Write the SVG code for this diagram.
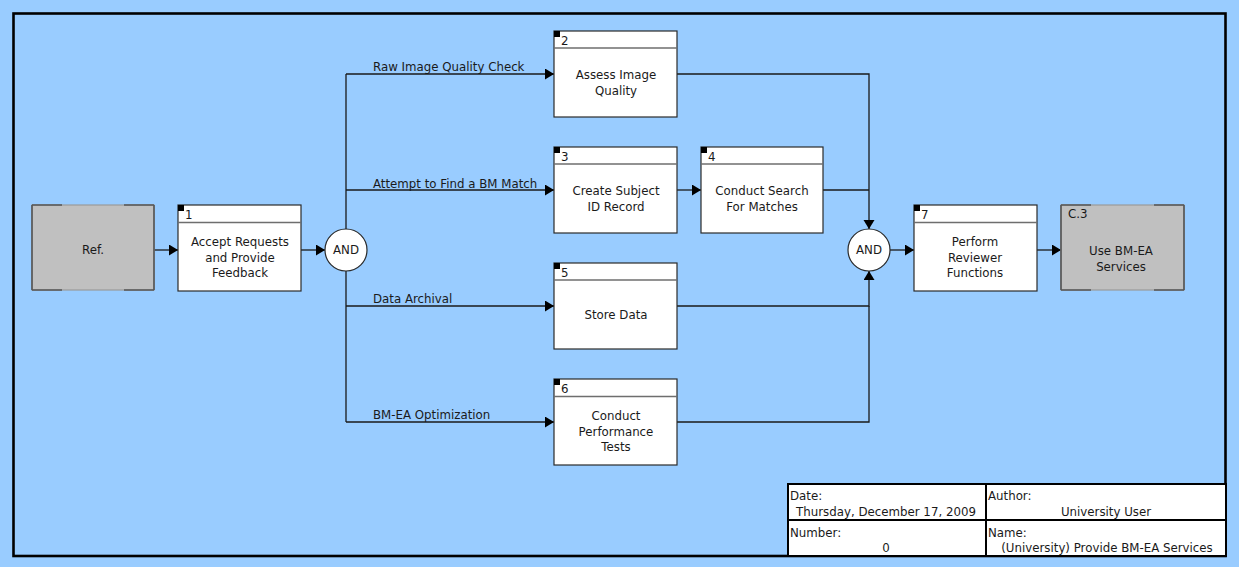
<svg xmlns="http://www.w3.org/2000/svg" width="1239" height="567" viewBox="0 0 1239 567">
  <style>
    text { font-family: "DejaVu Sans", Verdana, sans-serif; font-size: 11.8px; fill: #1a1a1a; }
    .mid { text-anchor: middle; }
    .box { fill: #ffffff; stroke: #2a2a2a; stroke-width: 1.2; }
    .hdr { stroke: #6e6e6e; stroke-width: 1.6; }
    .tag { fill: #000000; }
    .ref { fill: #c0c0c0; stroke: #9a9a9a; stroke-width: 1.2; }
    .refedge { stroke: #555555; stroke-width: 1.6; fill: none; }
    .junction { fill: #ffffff; stroke: #2a2a2a; stroke-width: 1.2; }
    .wire { fill: none; stroke: #1a1a1a; stroke-width: 1.3; }
    .arrow { marker-end: url(#head); }
    .cell { fill: #ffffff; stroke: #000000; stroke-width: 2; }
  </style>
  <defs>
    <marker id="head" markerUnits="userSpaceOnUse" markerWidth="10" markerHeight="12" refX="9" refY="5.5" orient="auto">
      <path d="M0,0 L9,5.5 L0,11 Z" fill="#000000"/>
    </marker>
  </defs>

  <!-- page background and frame -->
  <rect x="0" y="0" width="1239" height="567" fill="#99ccff"/>
  <rect x="13.5" y="13.5" width="1212" height="542.5" fill="none" stroke="#000000" stroke-width="2.6"/>

  <!-- connectors -->
  <g id="connectors">
    <path class="wire arrow" d="M154,250 H178"/>
    <path class="wire arrow" d="M301,250 H325"/>
    <path class="wire" d="M346,74 V422"/>
    <path class="wire arrow" d="M346,74 H554"/>
    <path class="wire arrow" d="M346,190 H554"/>
    <path class="wire arrow" d="M346,306 H554"/>
    <path class="wire arrow" d="M346,422 H554"/>
    <path class="wire arrow" d="M677,190 H701"/>
    <path class="wire arrow" d="M677,74 H869 V229"/>
    <path class="wire" d="M823,190 H869"/>
    <path class="wire arrow" d="M677,306 H869 V271"/>
    <path class="wire" d="M677,422 H869 V306"/>
    <path class="wire arrow" d="M890,250 H914"/>
    <path class="wire arrow" d="M1037,250 H1061"/>
    <text x="373" y="71">Raw Image Quality Check</text>
    <text x="373" y="188">Attempt to Find a BM Match</text>
    <text x="373" y="303">Data Archival</text>
    <text x="373" y="419">BM-EA Optimization</text>
  </g>

  <!-- reference box on the left -->
  <g id="ref-in">
    <rect class="ref" x="32" y="205" width="122" height="85"/>
    <path class="refedge" d="M32,205 H62 M124,205 H154 M32,290 H62 M124,290 H154 M32,205 V290 M154,205 V290"/>
    <text class="mid" x="93" y="254">Ref.</text>
  </g>

  <!-- activity 1 -->
  <g id="node-1">
    <rect class="box" x="178" y="205" width="123" height="86"/>
    <line class="hdr" x1="178" y1="222.5" x2="301" y2="222.5"/>
    <rect class="tag" x="178" y="205" width="6" height="6"/>
    <text x="185" y="219">1</text>
    <text class="mid" x="240" y="246">Accept Requests</text>
    <text class="mid" x="240" y="262">and Provide</text>
    <text class="mid" x="240" y="277">Feedback</text>
  </g>

  <!-- split junction -->
  <g id="and-split">
    <circle class="junction" cx="346" cy="250" r="21"/>
    <text class="mid" x="346" y="254">AND</text>
  </g>

  <!-- activity 2 -->
  <g id="node-2">
    <rect class="box" x="554" y="31" width="123" height="86"/>
    <line class="hdr" x1="554" y1="48" x2="677" y2="48"/>
    <rect class="tag" x="554" y="31" width="6" height="6"/>
    <text x="561" y="45">2</text>
    <text class="mid" x="616" y="79">Assess Image</text>
    <text class="mid" x="616" y="95">Quality</text>
  </g>

  <!-- activity 3 -->
  <g id="node-3">
    <rect class="box" x="554" y="147" width="123" height="86"/>
    <line class="hdr" x1="554" y1="164" x2="677" y2="164"/>
    <rect class="tag" x="554" y="147" width="6" height="6"/>
    <text x="561" y="161">3</text>
    <text class="mid" x="616" y="195">Create Subject</text>
    <text class="mid" x="616" y="211">ID Record</text>
  </g>

  <!-- activity 4 -->
  <g id="node-4">
    <rect class="box" x="701" y="147" width="122" height="86"/>
    <line class="hdr" x1="701" y1="164" x2="823" y2="164"/>
    <rect class="tag" x="701" y="147" width="6" height="6"/>
    <text x="708" y="161">4</text>
    <text class="mid" x="762" y="195">Conduct Search</text>
    <text class="mid" x="762" y="211">For Matches</text>
  </g>

  <!-- activity 5 -->
  <g id="node-5">
    <rect class="box" x="554" y="263" width="123" height="86"/>
    <line class="hdr" x1="554" y1="280" x2="677" y2="280"/>
    <rect class="tag" x="554" y="263" width="6" height="6"/>
    <text x="561" y="277">5</text>
    <text class="mid" x="616" y="319">Store Data</text>
  </g>

  <!-- activity 6 -->
  <g id="node-6">
    <rect class="box" x="554" y="379" width="123" height="86"/>
    <line class="hdr" x1="554" y1="396.5" x2="677" y2="396.5"/>
    <rect class="tag" x="554" y="379" width="6" height="6"/>
    <text x="561" y="393">6</text>
    <text class="mid" x="616" y="420">Conduct</text>
    <text class="mid" x="616" y="436">Performance</text>
    <text class="mid" x="616" y="451">Tests</text>
  </g>

  <!-- join junction -->
  <g id="and-join">
    <circle class="junction" cx="869" cy="250" r="21"/>
    <text class="mid" x="869" y="254">AND</text>
  </g>

  <!-- activity 7 -->
  <g id="node-7">
    <rect class="box" x="914" y="205" width="123" height="86"/>
    <line class="hdr" x1="914" y1="222.5" x2="1037" y2="222.5"/>
    <rect class="tag" x="914" y="205" width="6" height="6"/>
    <text x="921" y="219">7</text>
    <text class="mid" x="975" y="246">Perform</text>
    <text class="mid" x="975" y="262">Reviewer</text>
    <text class="mid" x="975" y="277">Functions</text>
  </g>

  <!-- reference box on the right -->
  <g id="ref-out">
    <rect class="ref" x="1061" y="205" width="123" height="85"/>
    <path class="refedge" d="M1061,205 H1091 M1154,205 H1184 M1061,290 H1091 M1154,290 H1184 M1061,205 V290 M1184,205 V290"/>
    <text x="1068" y="218">C.3</text>
    <text class="mid" x="1121" y="255">Use BM-EA</text>
    <text class="mid" x="1121" y="271">Services</text>
  </g>

  <!-- title block -->
  <g id="title-block">
    <rect class="cell" x="788" y="484" width="198" height="36"/>
    <rect class="cell" x="986" y="484" width="240" height="36"/>
    <rect class="cell" x="788" y="520" width="198" height="36"/>
    <rect class="cell" x="986" y="520" width="240" height="36"/>
    <text x="790" y="500">Date:</text>
    <text class="mid" x="886" y="516">Thursday, December 17, 2009</text>
    <text x="988" y="500">Author:</text>
    <text class="mid" x="1106" y="516">University User</text>
    <text x="790" y="537">Number:</text>
    <text class="mid" x="886" y="552">0</text>
    <text x="988" y="537">Name:</text>
    <text class="mid" x="1107" y="552">(University) Provide BM-EA Services</text>
  </g>
</svg>
